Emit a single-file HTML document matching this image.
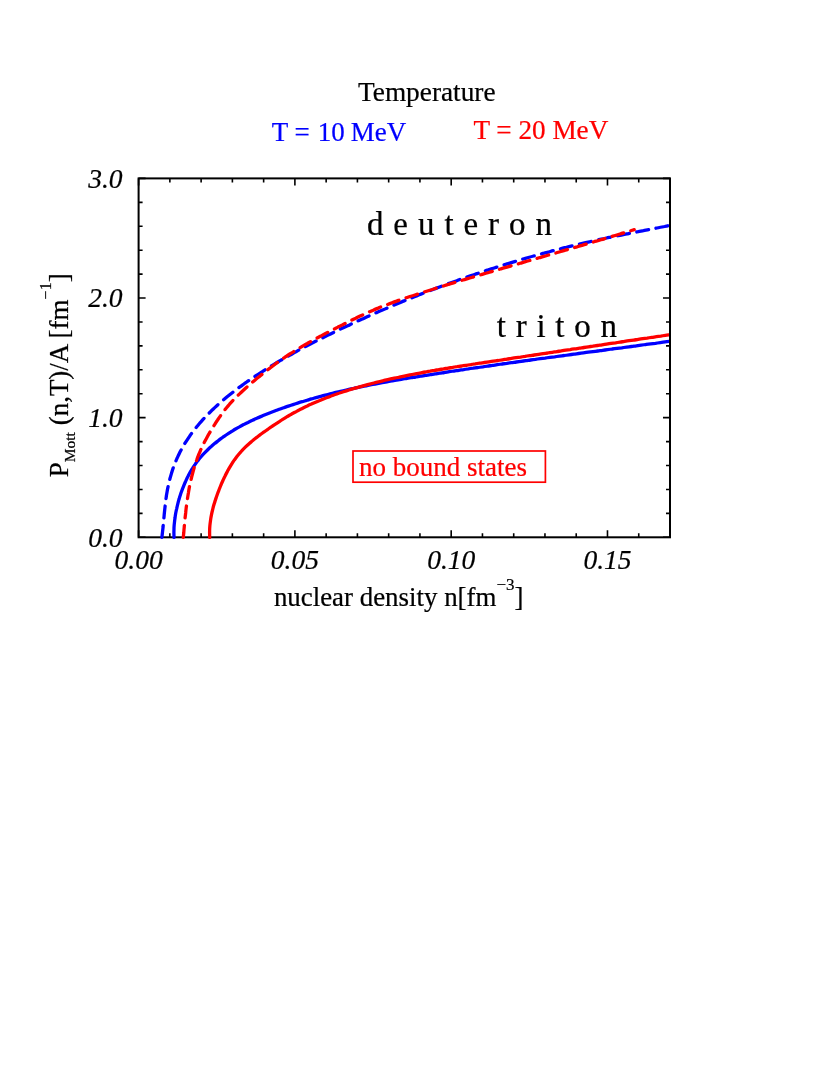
<!DOCTYPE html>
<html><head><meta charset="utf-8"><title>Mott momentum</title>
<style>
html,body{margin:0;padding:0;background:#fff;}
svg{display:block;will-change:transform;font-family:"Liberation Serif",serif;}
text{stroke-width:0.22px;stroke-linejoin:round;}
.k text,text.k{stroke:#000;}.b{stroke:#0000ff;}.r{stroke:#ff0000;}
</style></head>
<body>
<svg width="830" height="1075" viewBox="0 0 830 1075">
<rect width="830" height="1075" fill="#fff"/>
<defs><clipPath id="c"><rect x="138.6" y="178.4" width="530.4" height="362.9"/></clipPath></defs>
<text x="358" y="101.1" font-size="27.3" fill="#000" class="k">Temperature</text>
<text x="271.7" y="140.6" font-size="27" fill="#0000ff" class="b">T = <tspan dx="1.3">10</tspan><tspan dx="-0.8"> MeV</tspan></text>
<text x="473.4" y="138.8" font-size="27.2" fill="#ff0000" class="r">T = 20 MeV</text>
<rect x="138.6" y="178.4" width="531.4" height="358.9" fill="none" stroke="#000" stroke-width="2"/>
<path d="M138.60 537.30v-7.0M138.60 178.40v7.0M169.86 537.30v-4.0M169.86 178.40v4.0M201.12 537.30v-4.0M201.12 178.40v4.0M232.38 537.30v-4.0M232.38 178.40v4.0M263.64 537.30v-4.0M263.64 178.40v4.0M294.89 537.30v-7.0M294.89 178.40v7.0M326.15 537.30v-4.0M326.15 178.40v4.0M357.41 537.30v-4.0M357.41 178.40v4.0M388.67 537.30v-4.0M388.67 178.40v4.0M419.93 537.30v-4.0M419.93 178.40v4.0M451.19 537.30v-7.0M451.19 178.40v7.0M482.45 537.30v-4.0M482.45 178.40v4.0M513.71 537.30v-4.0M513.71 178.40v4.0M544.96 537.30v-4.0M544.96 178.40v4.0M576.22 537.30v-4.0M576.22 178.40v4.0M607.48 537.30v-7.0M607.48 178.40v7.0M638.74 537.30v-4.0M638.74 178.40v4.0M670.00 537.30v-4.0M670.00 178.40v4.0M138.60 537.30h7.0M670.00 537.30h-7.0M138.60 513.37h4.0M670.00 513.37h-4.0M138.60 489.45h4.0M670.00 489.45h-4.0M138.60 465.52h4.0M670.00 465.52h-4.0M138.60 441.59h4.0M670.00 441.59h-4.0M138.60 417.67h7.0M670.00 417.67h-7.0M138.60 393.74h4.0M670.00 393.74h-4.0M138.60 369.81h4.0M670.00 369.81h-4.0M138.60 345.89h4.0M670.00 345.89h-4.0M138.60 321.96h4.0M670.00 321.96h-4.0M138.60 298.03h7.0M670.00 298.03h-7.0M138.60 274.11h4.0M670.00 274.11h-4.0M138.60 250.18h4.0M670.00 250.18h-4.0M138.60 226.25h4.0M670.00 226.25h-4.0M138.60 202.33h4.0M670.00 202.33h-4.0M138.60 178.40h7.0M670.00 178.40h-7.0" stroke="#000" stroke-width="1.6" fill="none"/>
<g clip-path="url(#c)" fill="none" stroke-width="3.3" stroke-linejoin="round" stroke-linecap="round">
<path d="M161.9 537.4C162.0 536.5 162.3 533.9 162.5 532.1C162.7 530.3 162.9 528.6 163.1 526.8C163.2 525.0 163.4 523.2 163.6 521.4C163.7 519.6 163.9 517.9 164.1 516.1C164.2 514.3 164.4 512.5 164.6 510.7C164.8 508.9 165.0 507.1 165.2 505.3C165.4 503.5 165.6 501.7 165.8 499.9C166.1 498.2 166.3 496.4 166.6 494.6C166.9 492.8 167.2 491.1 167.5 489.3C167.9 487.5 168.3 485.8 168.7 484.0C169.0 482.3 169.5 480.5 169.9 478.8C170.4 477.1 170.9 475.4 171.4 473.6C171.9 471.9 172.5 470.2 173.0 468.5C173.6 466.9 174.2 465.2 174.9 463.5C175.5 461.9 176.2 460.2 176.9 458.6C177.7 457.0 178.4 455.3 179.2 453.7C180.0 452.1 180.8 450.6 181.7 449.0C182.5 447.4 183.4 445.9 184.3 444.3C185.2 442.8 186.2 441.3 187.2 439.8C188.2 438.3 189.2 436.8 190.2 435.3C191.2 433.9 192.3 432.4 193.4 431.0C194.5 429.6 195.6 428.2 196.7 426.8C197.9 425.4 199.0 424.0 200.2 422.6C201.4 421.3 202.6 419.9 203.8 418.6C205.1 417.3 206.3 416.0 207.5 414.7C208.8 413.4 210.1 412.1 211.4 410.8C212.7 409.6 214.0 408.3 215.3 407.1C216.6 405.9 217.9 404.7 219.3 403.5C220.6 402.3 221.9 401.1 223.3 400.0C224.7 398.8 226.0 397.7 227.4 396.5C228.8 395.4 230.2 394.3 231.6 393.2C233.0 392.1 234.4 391.0 235.9 389.9C237.3 388.8 238.7 387.7 240.2 386.7C241.6 385.6 243.1 384.6 244.5 383.5C246.0 382.5 247.4 381.5 248.9 380.5C250.4 379.5 251.8 378.4 253.3 377.4C254.8 376.4 256.3 375.5 257.8 374.5C259.3 373.5 260.8 372.5 262.3 371.6C263.8 370.6 265.3 369.6 266.8 368.7C268.4 367.7 269.9 366.8 271.4 365.9C272.9 364.9 274.5 364.0 276.0 363.1C277.5 362.2 279.1 361.3 280.6 360.4C282.2 359.5 283.7 358.6 285.3 357.7C286.8 356.8 288.4 355.9 290.0 355.0C291.5 354.1 293.1 353.3 294.7 352.4C296.2 351.5 297.8 350.7 299.4 349.8C301.0 349.0 302.6 348.1 304.1 347.3C305.7 346.5 307.3 345.6 308.9 344.8C310.5 344.0 312.1 343.1 313.7 342.3C315.3 341.5 316.9 340.7 318.5 339.9C320.1 339.1 321.7 338.3 323.3 337.5C324.9 336.7 326.5 335.9 328.1 335.1C329.7 334.3 331.4 333.5 333.0 332.7C334.6 331.9 336.2 331.2 337.8 330.4C339.4 329.6 341.1 328.8 342.7 328.1C344.3 327.3 345.9 326.5 347.6 325.8C349.2 325.0 350.8 324.3 352.4 323.5C354.1 322.7 355.7 322.0 357.3 321.2C358.9 320.5 360.6 319.8 362.2 319.0C363.8 318.3 365.5 317.5 367.1 316.8C368.7 316.1 370.4 315.3 372.0 314.6C373.6 313.9 375.3 313.2 376.9 312.4C378.6 311.7 380.2 311.0 381.9 310.3C383.5 309.6 385.1 308.9 386.8 308.2C388.4 307.5 390.1 306.8 391.7 306.1C393.4 305.4 395.0 304.7 396.7 304.0C398.3 303.3 400.0 302.6 401.6 301.9C403.3 301.2 404.9 300.6 406.6 299.9C408.3 299.2 409.9 298.5 411.6 297.9C413.2 297.2 414.9 296.5 416.6 295.9C418.2 295.2 419.9 294.5 421.6 293.9C423.2 293.2 424.9 292.6 426.6 291.9C428.2 291.3 429.9 290.6 431.6 290.0C433.2 289.4 434.9 288.7 436.6 288.1C438.3 287.4 440.0 286.8 441.6 286.2C443.3 285.6 445.0 284.9 446.7 284.3C448.3 283.7 450.0 283.1 451.7 282.5C453.4 281.9 455.1 281.3 456.8 280.7C458.5 280.0 460.1 279.4 461.8 278.9C463.5 278.3 465.2 277.7 466.9 277.1C468.6 276.5 470.3 275.9 472.0 275.3C473.7 274.7 475.4 274.2 477.1 273.6C478.8 273.0 480.5 272.4 482.2 271.9C483.9 271.3 485.6 270.7 487.3 270.2C489.0 269.6 490.7 269.1 492.4 268.5C494.1 268.0 495.8 267.4 497.5 266.9C499.2 266.3 500.9 265.8 502.6 265.3C504.4 264.7 506.1 264.2 507.8 263.7C509.5 263.1 511.2 262.6 512.9 262.1C514.6 261.6 516.4 261.1 518.1 260.5C519.8 260.0 521.5 259.5 523.2 259.0C525.0 258.5 526.7 258.0 528.4 257.5C530.1 257.0 531.8 256.5 533.6 256.0C535.3 255.6 537.0 255.1 538.8 254.6C540.5 254.1 542.2 253.6 543.9 253.2C545.7 252.7 547.4 252.2 549.1 251.8C550.9 251.3 552.6 250.8 554.3 250.4C556.1 249.9 557.8 249.5 559.5 249.0C561.3 248.6 563.0 248.2 564.7 247.7C566.5 247.3 568.2 246.8 570.0 246.4C571.7 246.0 573.4 245.6 575.2 245.1C576.9 244.7 578.7 244.3 580.4 243.9C582.2 243.5 583.9 243.1 585.6 242.7C587.4 242.3 589.1 241.9 590.9 241.5C592.6 241.1 594.4 240.7 596.1 240.3C597.9 239.9 599.6 239.5 601.4 239.1C603.1 238.8 604.9 238.4 606.6 238.0C608.4 237.6 610.1 237.3 611.9 236.9C613.7 236.6 615.4 236.2 617.2 235.8C618.9 235.5 620.7 235.1 622.4 234.8C624.2 234.4 626.0 234.1 627.7 233.8C629.5 233.4 631.2 233.1 633.0 232.7C634.7 232.4 636.5 232.0 638.3 231.7C640.0 231.4 641.8 231.0 643.5 230.7C645.3 230.3 647.1 230.0 648.8 229.6C650.6 229.3 652.3 228.9 654.1 228.6C655.8 228.2 657.6 227.9 659.4 227.5C661.1 227.2 662.9 226.8 664.6 226.5C666.4 226.1 669.0 225.5 669.9 225.3" stroke="#0000ff" stroke-dasharray="12 7.55"/>
<path d="M174.0 537.4C174.0 536.6 173.9 534.2 173.9 532.6C173.9 530.9 174.0 529.3 174.0 527.7C174.1 526.1 174.2 524.5 174.4 522.9C174.6 521.3 174.7 519.7 175.0 518.1C175.2 516.5 175.4 514.9 175.7 513.3C176.0 511.7 176.3 510.1 176.7 508.6C177.0 507.0 177.4 505.4 177.8 503.8C178.2 502.2 178.6 500.7 179.1 499.1C179.5 497.6 180.0 496.0 180.5 494.5C181.0 492.9 181.6 491.4 182.1 489.9C182.7 488.4 183.3 486.8 183.9 485.3C184.5 483.8 185.1 482.3 185.8 480.9C186.5 479.4 187.1 477.9 187.9 476.5C188.6 475.0 189.3 473.6 190.1 472.2C190.9 470.8 191.7 469.4 192.6 468.1C193.5 466.7 194.4 465.4 195.3 464.1C196.2 462.7 197.2 461.5 198.2 460.2C199.2 458.9 200.2 457.7 201.3 456.5C202.3 455.3 203.4 454.1 204.6 452.9C205.7 451.8 206.8 450.7 208.0 449.5C209.1 448.4 210.3 447.3 211.5 446.3C212.7 445.2 214.0 444.1 215.2 443.1C216.5 442.1 217.7 441.1 219.0 440.1C220.3 439.1 221.6 438.2 222.9 437.2C224.2 436.3 225.6 435.4 226.9 434.5C228.2 433.6 229.6 432.7 231.0 431.8C232.4 431.0 233.7 430.1 235.1 429.3C236.5 428.5 237.9 427.7 239.4 426.9C240.8 426.1 242.2 425.3 243.6 424.6C245.1 423.8 246.5 423.1 248.0 422.4C249.4 421.7 250.9 421.0 252.4 420.3C253.8 419.6 255.3 418.9 256.8 418.3C258.3 417.6 259.7 417.0 261.2 416.4C262.7 415.7 264.2 415.1 265.7 414.5C267.2 413.9 268.7 413.3 270.2 412.7C271.7 412.2 273.2 411.6 274.7 411.0C276.2 410.4 277.7 409.9 279.3 409.3C280.8 408.8 282.3 408.2 283.8 407.7C285.3 407.2 286.9 406.6 288.4 406.1C289.9 405.6 291.4 405.1 293.0 404.6C294.5 404.1 296.0 403.6 297.6 403.1C299.1 402.6 300.6 402.1 302.2 401.7C303.7 401.2 305.3 400.7 306.8 400.3C308.3 399.8 309.9 399.4 311.4 398.9C313.0 398.5 314.5 398.0 316.1 397.6C317.6 397.2 319.2 396.7 320.8 396.3C322.3 395.9 323.9 395.5 325.4 395.1C327.0 394.7 328.5 394.3 330.1 393.9C331.7 393.5 333.2 393.1 334.8 392.7C336.4 392.3 337.9 392.0 339.5 391.6C341.1 391.2 342.6 390.9 344.2 390.5C345.8 390.1 347.4 389.8 348.9 389.4C350.5 389.1 352.1 388.7 353.7 388.4C355.3 388.0 356.8 387.7 358.4 387.4C360.0 387.0 361.6 386.7 363.2 386.4C364.7 386.1 366.3 385.8 367.9 385.4C369.5 385.1 371.1 384.8 372.7 384.5C374.3 384.2 375.8 383.9 377.4 383.6C379.0 383.3 380.6 383.0 382.2 382.7C383.8 382.4 385.4 382.1 387.0 381.8C388.6 381.6 390.2 381.3 391.8 381.0C393.4 380.7 394.9 380.4 396.5 380.2C398.1 379.9 399.7 379.6 401.3 379.3C402.9 379.1 404.5 378.8 406.1 378.5C407.7 378.3 409.3 378.0 410.9 377.7C412.5 377.5 414.1 377.2 415.7 377.0C417.3 376.7 418.9 376.5 420.5 376.2C422.1 375.9 423.7 375.7 425.3 375.4C426.9 375.2 428.5 374.9 430.1 374.7C431.7 374.4 433.3 374.2 434.9 373.9C436.5 373.7 438.1 373.4 439.7 373.2C441.3 373.0 442.9 372.7 444.5 372.5C446.1 372.2 447.7 372.0 449.3 371.7C450.9 371.5 452.5 371.3 454.0 371.0C455.6 370.8 457.2 370.5 458.8 370.3C460.4 370.1 462.0 369.8 463.6 369.6C465.2 369.3 466.8 369.1 468.4 368.9C470.0 368.6 471.6 368.4 473.2 368.2C474.8 367.9 476.4 367.7 478.0 367.5C479.6 367.2 481.2 367.0 482.8 366.8C484.4 366.5 486.0 366.3 487.6 366.1C489.2 365.9 490.8 365.6 492.4 365.4C494.0 365.2 495.6 364.9 497.2 364.7C498.8 364.5 500.4 364.3 502.0 364.0C503.6 363.8 505.2 363.6 506.8 363.4C508.4 363.1 509.9 362.9 511.5 362.7C513.1 362.5 514.7 362.2 516.3 362.0C517.9 361.8 519.5 361.6 521.1 361.3C522.7 361.1 524.3 360.9 525.9 360.7C527.5 360.5 529.1 360.2 530.7 360.0C532.3 359.8 533.9 359.6 535.5 359.4C537.1 359.1 538.7 358.9 540.3 358.7C541.9 358.5 543.5 358.3 545.1 358.1C546.7 357.8 548.3 357.6 549.9 357.4C551.5 357.2 553.1 357.0 554.7 356.8C556.3 356.5 557.9 356.3 559.5 356.1C561.1 355.9 562.7 355.7 564.3 355.5C565.9 355.2 567.5 355.0 569.1 354.8C570.7 354.6 572.3 354.4 573.9 354.2C575.5 354.0 577.1 353.7 578.6 353.5C580.2 353.3 581.8 353.1 583.4 352.9C585.0 352.7 586.6 352.5 588.2 352.2C589.8 352.0 591.4 351.8 593.0 351.6C594.6 351.4 596.2 351.2 597.8 351.0C599.4 350.8 601.0 350.5 602.6 350.3C604.2 350.1 605.8 349.9 607.4 349.7C609.0 349.5 610.6 349.3 612.2 349.0C613.8 348.8 615.4 348.6 617.0 348.4C618.6 348.2 620.2 348.0 621.8 347.8C623.4 347.5 625.0 347.3 626.6 347.1C628.2 346.9 629.8 346.7 631.4 346.5C633.1 346.3 634.7 346.0 636.3 345.8C637.9 345.6 639.5 345.4 641.1 345.2C642.7 345.0 644.3 344.8 645.9 344.5C647.5 344.3 649.1 344.1 650.7 343.9C652.3 343.7 653.9 343.5 655.5 343.3C657.1 343.0 658.7 342.8 660.3 342.6C661.9 342.4 663.5 342.2 665.1 341.9C666.7 341.7 669.1 341.4 669.9 341.3" stroke="#0000ff"/>
<path d="M183.3 537.4C183.4 536.6 183.6 534.1 183.8 532.5C183.9 530.9 184.0 529.2 184.2 527.6C184.3 525.9 184.5 524.3 184.6 522.6C184.8 521.0 185.0 519.3 185.1 517.7C185.3 516.0 185.5 514.4 185.7 512.7C185.8 511.1 186.0 509.5 186.2 507.8C186.4 506.2 186.7 504.5 186.9 502.9C187.1 501.2 187.3 499.6 187.6 497.9C187.8 496.3 188.1 494.7 188.4 493.0C188.6 491.4 188.9 489.8 189.2 488.1C189.5 486.5 189.9 484.9 190.2 483.3C190.6 481.7 190.9 480.1 191.3 478.5C191.7 476.8 192.1 475.2 192.5 473.7C192.9 472.1 193.3 470.5 193.8 468.9C194.3 467.3 194.7 465.7 195.3 464.2C195.8 462.6 196.3 461.1 196.9 459.5C197.4 458.0 198.0 456.4 198.6 454.9C199.2 453.4 199.9 451.8 200.5 450.3C201.2 448.8 201.9 447.3 202.6 445.8C203.3 444.3 204.1 442.9 204.8 441.4C205.6 439.9 206.4 438.5 207.2 437.0C208.0 435.5 208.8 434.1 209.7 432.7C210.5 431.2 211.4 429.8 212.2 428.4C213.1 427.0 214.0 425.6 214.9 424.2C215.7 422.8 216.6 421.4 217.6 420.0C218.5 418.6 219.4 417.2 220.4 415.9C221.3 414.5 222.3 413.2 223.3 411.9C224.3 410.6 225.3 409.3 226.3 408.0C227.4 406.7 228.4 405.5 229.5 404.2C230.6 403.0 231.7 401.8 232.8 400.6C233.9 399.4 235.1 398.2 236.2 397.1C237.4 395.9 238.6 394.7 239.8 393.6C240.9 392.5 242.2 391.3 243.4 390.2C244.6 389.1 245.8 388.0 247.0 386.9C248.3 385.8 249.5 384.7 250.8 383.7C252.0 382.6 253.3 381.5 254.6 380.4C255.8 379.4 257.1 378.3 258.4 377.3C259.7 376.2 261.0 375.2 262.3 374.1C263.5 373.1 264.8 372.1 266.1 371.0C267.4 370.0 268.8 369.0 270.1 368.0C271.4 367.0 272.7 366.0 274.0 365.0C275.4 364.0 276.7 363.0 278.0 362.1C279.4 361.1 280.7 360.1 282.1 359.2C283.5 358.3 284.8 357.3 286.2 356.4C287.6 355.5 289.0 354.6 290.3 353.7C291.7 352.8 293.1 351.9 294.5 351.1C295.9 350.2 297.3 349.3 298.7 348.5C300.2 347.6 301.6 346.8 303.0 345.9C304.4 345.1 305.8 344.3 307.3 343.5C308.7 342.6 310.2 341.8 311.6 341.0C313.0 340.2 314.5 339.4 315.9 338.6C317.4 337.8 318.8 337.1 320.3 336.3C321.8 335.5 323.2 334.7 324.7 333.9C326.1 333.2 327.6 332.4 329.1 331.6C330.5 330.9 332.0 330.1 333.5 329.4C335.0 328.6 336.4 327.9 337.9 327.1C339.4 326.4 340.9 325.6 342.3 324.9C343.8 324.1 345.3 323.4 346.8 322.6C348.2 321.9 349.7 321.1 351.2 320.4C352.7 319.7 354.2 318.9 355.7 318.2C357.1 317.5 358.6 316.8 360.1 316.1C361.6 315.4 363.1 314.7 364.6 314.0C366.1 313.3 367.6 312.6 369.1 311.9C370.6 311.3 372.2 310.6 373.7 310.0C375.2 309.3 376.7 308.7 378.2 308.1C379.8 307.4 381.3 306.8 382.8 306.2C384.4 305.6 385.9 305.0 387.5 304.5C389.0 303.9 390.6 303.3 392.1 302.7C393.7 302.2 395.2 301.6 396.8 301.0C398.3 300.5 399.9 299.9 401.5 299.4C403.0 298.9 404.6 298.3 406.1 297.8C407.7 297.3 409.3 296.7 410.9 296.2C412.4 295.7 414.0 295.2 415.6 294.7C417.1 294.2 418.7 293.7 420.3 293.2C421.9 292.7 423.5 292.2 425.0 291.7C426.6 291.2 428.2 290.7 429.8 290.2C431.3 289.7 432.9 289.2 434.5 288.7C436.1 288.2 437.7 287.7 439.2 287.2C440.8 286.8 442.4 286.3 444.0 285.8C445.6 285.3 447.2 284.8 448.7 284.3C450.3 283.9 451.9 283.4 453.5 282.9C455.1 282.4 456.6 281.9 458.2 281.5C459.8 281.0 461.4 280.5 463.0 280.0C464.6 279.6 466.1 279.1 467.7 278.6C469.3 278.2 470.9 277.7 472.5 277.2C474.1 276.7 475.7 276.3 477.2 275.8C478.8 275.3 480.4 274.9 482.0 274.4C483.6 273.9 485.2 273.5 486.8 273.0C488.3 272.5 489.9 272.1 491.5 271.6C493.1 271.1 494.7 270.7 496.3 270.2C497.9 269.7 499.4 269.3 501.0 268.8C502.6 268.4 504.2 267.9 505.8 267.4C507.4 267.0 509.0 266.5 510.5 266.1C512.1 265.6 513.7 265.1 515.3 264.7C516.9 264.2 518.5 263.8 520.1 263.3C521.7 262.8 523.2 262.4 524.8 261.9C526.4 261.5 528.0 261.0 529.6 260.5C531.2 260.1 532.8 259.6 534.4 259.2C535.9 258.7 537.5 258.3 539.1 257.8C540.7 257.3 542.3 256.9 543.9 256.4C545.5 256.0 547.0 255.5 548.6 255.0C550.2 254.6 551.8 254.1 553.4 253.7C555.0 253.2 556.6 252.8 558.2 252.3C559.7 251.8 561.3 251.4 562.9 250.9C564.5 250.4 566.1 250.0 567.7 249.5C569.3 249.1 570.8 248.6 572.4 248.1C574.0 247.7 575.6 247.2 577.2 246.8C578.8 246.3 580.4 245.8 582.0 245.4C583.5 244.9 585.1 244.4 586.7 244.0C588.3 243.5 589.9 243.0 591.5 242.6C593.0 242.1 594.6 241.6 596.2 241.2C597.8 240.7 599.4 240.2 601.0 239.7C602.6 239.3 604.1 238.8 605.7 238.3C607.3 237.9 608.9 237.4 610.5 236.9C612.1 236.4 613.6 236.0 615.2 235.5C616.8 235.0 618.4 234.5 620.0 234.0C621.6 233.6 623.1 233.1 624.7 232.6C626.3 232.1 627.9 231.6 629.5 231.1C631.0 230.7 633.4 229.9 634.2 229.7" stroke="#ff0000" stroke-dasharray="12 7.55"/>
<path d="M209.7 537.4C209.7 536.6 209.6 534.3 209.6 532.7C209.6 531.2 209.6 529.7 209.7 528.1C209.8 526.6 209.9 525.1 210.1 523.6C210.3 522.1 210.5 520.6 210.7 519.1C210.9 517.6 211.2 516.1 211.5 514.6C211.8 513.1 212.1 511.6 212.5 510.2C212.9 508.7 213.2 507.2 213.6 505.8C214.1 504.3 214.5 502.8 215.0 501.4C215.4 499.9 215.9 498.5 216.4 497.0C216.9 495.6 217.4 494.2 217.9 492.7C218.5 491.3 219.0 489.8 219.6 488.4C220.2 487.0 220.7 485.6 221.3 484.1C221.9 482.7 222.6 481.3 223.2 479.9C223.8 478.5 224.5 477.1 225.2 475.7C225.8 474.4 226.5 473.0 227.3 471.6C228.0 470.3 228.7 468.9 229.5 467.6C230.3 466.3 231.0 465.0 231.9 463.7C232.7 462.4 233.5 461.2 234.4 459.9C235.3 458.7 236.2 457.5 237.1 456.3C238.1 455.1 239.0 453.9 240.0 452.8C241.0 451.7 242.0 450.5 243.1 449.4C244.1 448.4 245.2 447.3 246.3 446.2C247.4 445.2 248.5 444.2 249.6 443.2C250.8 442.2 251.9 441.2 253.1 440.2C254.3 439.2 255.5 438.3 256.7 437.4C257.9 436.4 259.1 435.5 260.3 434.6C261.6 433.7 262.8 432.8 264.1 431.9C265.3 431.0 266.6 430.1 267.8 429.3C269.1 428.4 270.3 427.5 271.6 426.7C272.9 425.8 274.1 424.9 275.4 424.1C276.7 423.2 278.0 422.4 279.3 421.6C280.6 420.7 281.8 419.9 283.1 419.1C284.5 418.3 285.8 417.5 287.1 416.7C288.4 415.9 289.7 415.2 291.0 414.4C292.4 413.7 293.7 412.9 295.0 412.2C296.4 411.5 297.7 410.7 299.1 410.0C300.4 409.3 301.8 408.7 303.1 408.0C304.5 407.3 305.9 406.6 307.3 406.0C308.6 405.3 310.0 404.7 311.4 404.1C312.8 403.4 314.2 402.8 315.6 402.2C317.0 401.6 318.4 401.0 319.8 400.5C321.2 399.9 322.6 399.3 324.0 398.7C325.4 398.2 326.8 397.6 328.3 397.1C329.7 396.6 331.1 396.0 332.6 395.5C334.0 395.0 335.4 394.5 336.9 394.0C338.3 393.5 339.7 393.0 341.2 392.5C342.6 392.0 344.1 391.5 345.5 391.1C347.0 390.6 348.4 390.2 349.9 389.7C351.3 389.3 352.8 388.8 354.3 388.4C355.7 387.9 357.2 387.5 358.7 387.1C360.1 386.7 361.6 386.3 363.1 385.9C364.5 385.5 366.0 385.1 367.5 384.7C369.0 384.3 370.4 383.9 371.9 383.5C373.4 383.1 374.9 382.8 376.3 382.4C377.8 382.0 379.3 381.7 380.8 381.3C382.3 380.9 383.8 380.6 385.2 380.2C386.7 379.9 388.2 379.6 389.7 379.2C391.2 378.9 392.7 378.5 394.2 378.2C395.7 377.9 397.1 377.6 398.6 377.3C400.1 376.9 401.6 376.6 403.1 376.3C404.6 376.0 406.1 375.7 407.6 375.4C409.1 375.1 410.6 374.8 412.1 374.5C413.6 374.2 415.1 373.9 416.6 373.6C418.1 373.4 419.6 373.1 421.1 372.8C422.6 372.5 424.1 372.2 425.6 372.0C427.1 371.7 428.6 371.4 430.1 371.2C431.6 370.9 433.1 370.6 434.6 370.4C436.1 370.1 437.6 369.9 439.1 369.6C440.6 369.4 442.1 369.1 443.6 368.9C445.1 368.6 446.7 368.4 448.2 368.1C449.7 367.9 451.2 367.6 452.7 367.4C454.2 367.1 455.7 366.9 457.2 366.7C458.7 366.4 460.2 366.2 461.7 366.0C463.2 365.7 464.8 365.5 466.3 365.3C467.8 365.0 469.3 364.8 470.8 364.6C472.3 364.3 473.8 364.1 475.3 363.9C476.8 363.6 478.3 363.4 479.8 363.2C481.4 363.0 482.9 362.7 484.4 362.5C485.9 362.3 487.4 362.1 488.9 361.8C490.4 361.6 491.9 361.4 493.4 361.1C494.9 360.9 496.5 360.7 498.0 360.5C499.5 360.2 501.0 360.0 502.5 359.8C504.0 359.6 505.5 359.3 507.0 359.1C508.5 358.9 510.0 358.6 511.5 358.4C513.1 358.2 514.6 358.0 516.1 357.7C517.6 357.5 519.1 357.3 520.6 357.1C522.1 356.8 523.6 356.6 525.1 356.4C526.6 356.1 528.1 355.9 529.6 355.7C531.1 355.5 532.7 355.2 534.2 355.0C535.7 354.8 537.2 354.6 538.7 354.3C540.2 354.1 541.7 353.9 543.2 353.6C544.7 353.4 546.2 353.2 547.7 353.0C549.2 352.7 550.7 352.5 552.3 352.3C553.8 352.1 555.3 351.8 556.8 351.6C558.3 351.4 559.8 351.1 561.3 350.9C562.8 350.7 564.3 350.5 565.8 350.2C567.3 350.0 568.8 349.8 570.3 349.6C571.8 349.3 573.4 349.1 574.9 348.9C576.4 348.7 577.9 348.4 579.4 348.2C580.9 348.0 582.4 347.7 583.9 347.5C585.4 347.3 586.9 347.1 588.4 346.8C589.9 346.6 591.4 346.4 592.9 346.2C594.5 345.9 596.0 345.7 597.5 345.5C599.0 345.3 600.5 345.0 602.0 344.8C603.5 344.6 605.0 344.4 606.5 344.1C608.0 343.9 609.5 343.7 611.0 343.4C612.5 343.2 614.1 343.0 615.6 342.8C617.1 342.5 618.6 342.3 620.1 342.1C621.6 341.9 623.1 341.6 624.6 341.4C626.1 341.2 627.6 341.0 629.1 340.7C630.6 340.5 632.2 340.3 633.7 340.1C635.2 339.9 636.7 339.6 638.2 339.4C639.7 339.2 641.2 339.0 642.7 338.7C644.2 338.5 645.7 338.3 647.2 338.1C648.8 337.8 650.3 337.6 651.8 337.4C653.3 337.2 654.8 336.9 656.3 336.7C657.8 336.5 659.3 336.3 660.8 336.1C662.4 335.8 663.9 335.6 665.4 335.4C666.9 335.2 669.2 334.8 669.9 334.7" stroke="#ff0000"/>
</g>
<g font-size="27.5" font-style="italic" fill="#000" class="k"><text x="138.6" y="569" text-anchor="middle">0.00</text><text x="294.9" y="569" text-anchor="middle">0.05</text><text x="451.2" y="569" text-anchor="middle">0.10</text><text x="607.5" y="569" text-anchor="middle">0.15</text><text x="122.6" y="546.5" text-anchor="end">0.0</text><text x="122.6" y="426.9" text-anchor="end">1.0</text><text x="122.6" y="307.2" text-anchor="end">2.0</text><text x="122.6" y="187.6" text-anchor="end">3.0</text></g>
<text x="366.9" y="234.8" font-size="33" fill="#000" letter-spacing="0.85" class="k">d e u t e r o n</text>
<text x="496.8" y="336.7" font-size="33" fill="#000" letter-spacing="0.75" class="k">t r i t o n</text>
<rect x="353" y="451" width="192.4" height="31.2" fill="none" stroke="#ff0000" stroke-width="1.7"/>
<text x="359" y="475.6" font-size="27" fill="#ff0000" class="r">no bound states</text>
<text x="273.9" y="605.6" font-size="26.9" fill="#000" class="k">nuclear density n[fm<tspan font-size="17" dy="-15.6">−3</tspan><tspan dy="15.6">]</tspan></text>
<g transform="translate(67.9,477.3) rotate(-90)"><text x="0" y="0" font-size="27" fill="#000" class="k">P<tspan font-size="15.5" dy="7.4">Mott</tspan><tspan dy="-7.4"> (n,T)/A [fm</tspan><tspan font-size="16" dy="-16.5">−1</tspan><tspan dy="16.5">]</tspan></text></g>
</svg>
</body></html>
